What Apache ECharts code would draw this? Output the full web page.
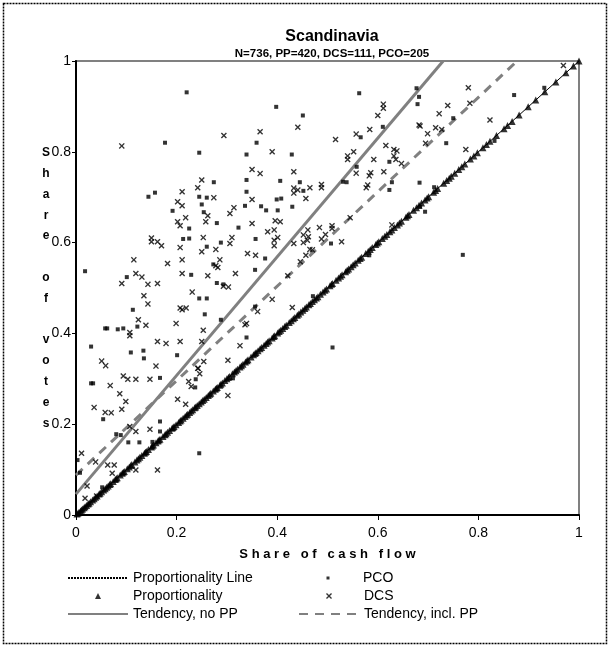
<!DOCTYPE html>
<html>
<head>
<meta charset="utf-8">
<title>Scandinavia</title>
<script src="https://cdn.jsdelivr.net/npm/echarts@6/dist/echarts.min.js"></script>
<style>
  html, body { margin: 0; padding: 0; background: #fff; }
  #chart { width: 611px; height: 647px; }
</style>
</head>
<body>
<div id="chart"></div>
<script>
const chartTitle = 'Scandinavia'
const chartSubtitle = 'N=736, PP=420, DCS=111, PCO=205'
const xName = 'Share of cash flow'
const yName = 'Share of votes'
const axisTicks = [0, 0.2, 0.4, 0.6, 0.8, 1]

// proportional firms: votes == cash flow, so one share per firm
const ppShares = [
  0.002, 0.004, 0.006, 0.009, 0.011, 0.013, 0.016, 0.018, 0.021, 0.024, 0.026, 0.029,
  0.033, 0.036, 0.039, 0.042, 0.046, 0.048, 0.051, 0.055, 0.058, 0.061, 0.064, 0.067,
  0.069, 0.074, 0.078, 0.08, 0.082, 0.088, 0.092, 0.094, 0.096, 0.102, 0.106, 0.109,
  0.111, 0.117, 0.121, 0.124, 0.127, 0.131, 0.136, 0.138, 0.14, 0.144, 0.15, 0.152,
  0.154, 0.159, 0.163, 0.165, 0.167, 0.173, 0.177, 0.179, 0.182, 0.186, 0.191, 0.193,
  0.195, 0.199, 0.204, 0.207, 0.209, 0.213, 0.217, 0.22, 0.222, 0.226, 0.229, 0.232,
  0.236, 0.238, 0.241, 0.245, 0.249, 0.252, 0.255, 0.259, 0.263, 0.266, 0.268, 0.273,
  0.277, 0.279, 0.281, 0.286, 0.288, 0.291, 0.296, 0.3, 0.303, 0.305, 0.311, 0.315,
  0.318, 0.321, 0.326, 0.329, 0.332, 0.337, 0.34, 0.342, 0.348, 0.353, 0.356, 0.358,
  0.362, 0.366, 0.369, 0.374, 0.378, 0.381, 0.384, 0.39, 0.393, 0.395, 0.401, 0.404,
  0.407, 0.411, 0.415, 0.418, 0.424, 0.428, 0.432, 0.435, 0.44, 0.443, 0.447, 0.451,
  0.455, 0.458, 0.463, 0.466, 0.47, 0.474, 0.478, 0.481, 0.486, 0.491, 0.495, 0.498,
  0.505, 0.508, 0.51, 0.517, 0.522, 0.526, 0.529, 0.536, 0.539, 0.542, 0.547, 0.551,
  0.555, 0.561, 0.565, 0.568, 0.576, 0.581, 0.585, 0.589, 0.596, 0.599, 0.602, 0.609,
  0.614, 0.618, 0.624, 0.628, 0.633, 0.639, 0.643, 0.647, 0.656, 0.659, 0.662, 0.671,
  0.677, 0.682, 0.687, 0.694, 0.698, 0.701, 0.711, 0.715, 0.719, 0.731, 0.737, 0.742,
  0.746, 0.753, 0.761, 0.767, 0.773, 0.784, 0.791, 0.798, 0.809, 0.816, 0.823, 0.836,
  0.851, 0.858, 0.867, 0.881, 0.899, 0.914, 0.932, 0.954, 0.974, 0.989, 1.0
]

const pcoPoints = [
  [0.220, 0.931], [0.177, 0.820], [0.245, 0.798], [0.144, 0.701], [0.157, 0.710], [0.192, 0.670],
  [0.225, 0.631], [0.213, 0.608], [0.225, 0.609], [0.018, 0.537], [0.101, 0.524], [0.229, 0.529],
  [0.398, 0.899], [0.451, 0.880], [0.359, 0.820], [0.339, 0.794], [0.429, 0.794], [0.274, 0.733],
  [0.339, 0.738], [0.406, 0.736], [0.445, 0.733], [0.452, 0.714], [0.339, 0.712], [0.245, 0.701],
  [0.260, 0.699], [0.399, 0.695], [0.408, 0.697], [0.336, 0.681], [0.368, 0.680], [0.378, 0.671],
  [0.250, 0.684], [0.401, 0.671], [0.430, 0.679], [0.254, 0.667], [0.280, 0.643], [0.323, 0.633],
  [0.357, 0.608], [0.260, 0.591], [0.288, 0.600], [0.376, 0.565], [0.273, 0.552], [0.356, 0.540],
  [0.280, 0.511], [0.293, 0.508], [0.563, 0.929], [0.677, 0.940], [0.682, 0.921], [0.679, 0.905],
  [0.750, 0.874], [0.610, 0.855], [0.566, 0.832], [0.736, 0.819], [0.623, 0.778], [0.558, 0.767],
  [0.531, 0.734], [0.538, 0.733], [0.628, 0.733], [0.683, 0.732], [0.623, 0.716], [0.507, 0.598],
  [0.694, 0.668], [0.510, 0.369], [0.684, 0.679], [0.871, 0.925], [0.769, 0.573], [0.113, 0.452],
  [0.058, 0.411], [0.062, 0.411], [0.083, 0.409], [0.094, 0.411], [0.122, 0.415], [0.030, 0.371],
  [0.109, 0.358], [0.134, 0.362], [0.135, 0.345], [0.201, 0.352], [0.167, 0.302], [0.030, 0.290],
  [0.034, 0.290], [0.054, 0.211], [0.167, 0.206], [0.080, 0.178], [0.089, 0.176], [0.104, 0.160],
  [0.126, 0.160], [0.003, 0.121], [0.245, 0.136], [0.008, 0.093], [0.167, 0.184], [0.245, 0.477],
  [0.260, 0.477], [0.256, 0.442], [0.288, 0.430], [0.238, 0.299], [0.237, 0.281], [0.339, 0.391],
  [0.356, 0.459], [0.052, 0.061], [0.152, 0.161], [0.312, 0.301], [0.471, 0.482], [0.583, 0.572],
  [0.712, 0.722], [0.832, 0.824], [0.931, 0.941]
]

const dcsPoints = [
  [0.091, 0.813], [0.211, 0.712], [0.242, 0.721], [0.202, 0.690], [0.211, 0.681], [0.218, 0.655],
  [0.202, 0.646], [0.207, 0.637], [0.150, 0.610], [0.150, 0.602], [0.162, 0.602], [0.170, 0.593],
  [0.207, 0.589], [0.115, 0.562], [0.211, 0.562], [0.182, 0.554], [0.119, 0.532], [0.131, 0.524],
  [0.211, 0.532], [0.091, 0.510], [0.143, 0.508], [0.162, 0.510], [0.441, 0.854], [0.294, 0.836],
  [0.366, 0.844], [0.390, 0.800], [0.350, 0.761], [0.366, 0.752], [0.433, 0.756], [0.250, 0.738],
  [0.488, 0.728], [0.488, 0.721], [0.433, 0.720], [0.441, 0.716], [0.465, 0.721], [0.433, 0.709],
  [0.457, 0.697], [0.274, 0.699], [0.350, 0.695], [0.314, 0.677], [0.262, 0.659], [0.306, 0.664],
  [0.258, 0.646], [0.350, 0.642], [0.396, 0.648], [0.406, 0.646], [0.381, 0.624], [0.394, 0.628],
  [0.461, 0.628], [0.484, 0.633], [0.253, 0.611], [0.310, 0.611], [0.306, 0.598], [0.401, 0.611],
  [0.394, 0.605], [0.394, 0.593], [0.452, 0.617], [0.462, 0.613], [0.452, 0.600], [0.460, 0.605],
  [0.433, 0.598], [0.250, 0.580], [0.278, 0.585], [0.341, 0.576], [0.357, 0.572], [0.465, 0.585],
  [0.470, 0.584], [0.286, 0.562], [0.457, 0.572], [0.446, 0.558], [0.278, 0.549], [0.282, 0.545],
  [0.262, 0.527], [0.317, 0.532], [0.421, 0.527], [0.611, 0.905], [0.611, 0.896], [0.739, 0.902],
  [0.600, 0.880], [0.722, 0.884], [0.682, 0.859], [0.684, 0.857], [0.584, 0.849], [0.715, 0.853],
  [0.727, 0.849], [0.557, 0.839], [0.699, 0.840], [0.516, 0.827], [0.695, 0.819], [0.616, 0.814],
  [0.632, 0.805], [0.638, 0.802], [0.552, 0.800], [0.540, 0.791], [0.540, 0.783], [0.632, 0.791],
  [0.636, 0.783], [0.592, 0.783], [0.647, 0.774], [0.612, 0.756], [0.557, 0.753], [0.586, 0.754],
  [0.583, 0.747], [0.580, 0.727], [0.577, 0.721], [0.545, 0.655], [0.509, 0.637], [0.509, 0.631],
  [0.496, 0.618], [0.528, 0.602], [0.488, 0.608], [0.628, 0.639], [0.969, 0.990], [0.780, 0.941],
  [0.783, 0.907], [0.823, 0.870], [0.775, 0.805], [0.135, 0.483], [0.231, 0.491], [0.143, 0.465],
  [0.207, 0.456], [0.219, 0.456], [0.211, 0.452], [0.124, 0.430], [0.107, 0.402], [0.107, 0.395],
  [0.139, 0.418], [0.199, 0.422], [0.162, 0.382], [0.179, 0.378], [0.207, 0.382], [0.051, 0.339],
  [0.059, 0.329], [0.159, 0.328], [0.243, 0.323], [0.094, 0.306], [0.103, 0.299], [0.119, 0.299],
  [0.147, 0.299], [0.068, 0.285], [0.087, 0.267], [0.099, 0.250], [0.202, 0.255], [0.036, 0.237],
  [0.058, 0.226], [0.070, 0.225], [0.091, 0.233], [0.107, 0.195], [0.119, 0.184], [0.147, 0.189],
  [0.218, 0.244], [0.224, 0.294], [0.229, 0.283], [0.011, 0.136], [0.039, 0.117], [0.063, 0.110],
  [0.076, 0.110], [0.072, 0.092], [0.119, 0.099], [0.162, 0.099], [0.022, 0.064], [0.018, 0.037],
  [0.041, 0.042], [0.293, 0.504], [0.303, 0.502], [0.253, 0.407], [0.250, 0.382], [0.254, 0.338],
  [0.242, 0.323], [0.246, 0.311], [0.302, 0.341], [0.302, 0.263], [0.326, 0.373], [0.336, 0.419],
  [0.339, 0.422], [0.361, 0.448], [0.390, 0.475], [0.430, 0.457]
]

// line endpoints [cash flow, votes]
const propLine = [[0, 0], [1, 1]]
const tendNoPP = [[0, 0.046], [0.73, 1]]
const tendInclPP = [[0, 0.088], [0.877, 1]]

const FONT = 'Liberation Sans, Arial, sans-serif'
// path symbols keep their aspect inside the legend, built-in ones get stretched
const crossIcon = 'path://M0,1.6L1.6,0L5,3.4L8.4,0L10,1.6L6.6,5L10,8.4L8.4,10L5,6.6L1.6,10L0,8.4L3.4,5Z'
const triIcon = 'path://M5,0L10,10L0,10Z'
const squareIcon = 'path://M0,0L10,0L10,10L0,10Z'

const chart = echarts.init(document.getElementById('chart'), null, { renderer: 'canvas' })

const legendText = { fontFamily: FONT, fontSize: 14, color: '#000', lineHeight: 16 }
const noDot = { opacity: 0 }
const legendTop = 565
const rowStep = 18
const iconWidth = 60

function legendBlock(left, top, itemHeight, data) {
  return {
    orient: 'vertical',
    left: left,
    top: top,
    itemWidth: iconWidth,
    itemHeight: itemHeight,
    itemGap: 2,
    selectedMode: false,
    textStyle: legendText,
    data: data
  }
}

chart.setOption({
  animation: false,
  backgroundColor: '#fff',
  title: {
    text: chartTitle,
    subtext: chartSubtitle,
    left: 327,
    top: 24,
    textAlign: 'center',
    itemGap: 3,
    textStyle: { fontFamily: FONT, fontSize: 16, fontWeight: 'bold', color: '#000' },
    subtextStyle: { fontFamily: FONT, fontSize: 11.5, fontWeight: 'bold', color: '#000' }
  },
  grid: {
    left: 76,
    right: 32,
    top: 61,
    bottom: 132,
    show: true,
    borderColor: '#808080',
    borderWidth: 2,
    backgroundColor: 'transparent'
  },
  xAxis: {
    type: 'value',
    min: axisTicks[0],
    max: axisTicks[axisTicks.length - 1],
    interval: 0.2,
    name: xName.split('').join(' '),
    nameLocation: 'middle',
    nameGap: 33,
    nameTextStyle: { fontFamily: FONT, fontSize: 13, fontWeight: 'bold', color: '#000' },
    axisLine: { onZero: false, lineStyle: { color: '#000', width: 2 } },
    axisTick: { show: true, length: 5, lineStyle: { color: '#000', width: 1 } },
    axisLabel: { fontFamily: FONT, fontSize: 14, color: '#000', margin: 11 },
    splitLine: { show: false }
  },
  yAxis: {
    type: 'value',
    min: axisTicks[0],
    max: axisTicks[axisTicks.length - 1],
    interval: 0.2,
    axisLine: { onZero: false, lineStyle: { color: '#000', width: 2 } },
    axisTick: { show: true, length: 4, lineStyle: { color: '#000', width: 1 } },
    axisLabel: { fontFamily: FONT, fontSize: 14, color: '#000', margin: 5 },
    splitLine: { show: false }
  },
  legend: [
    legendBlock(62, legendTop, 6, [
      { name: 'Proportionality Line', itemStyle: noDot, lineStyle: { type: [2, 1] } },
      'Proportionality',
      { name: 'Tendency, no PP', itemStyle: noDot }
    ]),
    // a lone small marker: the block is placed by its own bounds, so start at the dot
    legendBlock(293 + (iconWidth - 3) / 2, legendTop, 3, ['PCO']),
    legendBlock(293, legendTop + rowStep, 6, [
      'DCS',
      { name: 'Tendency, incl. PP', itemStyle: noDot }
    ])
  ],
  graphic: [
    {
      type: 'rect',
      silent: true,
      shape: { x: 3.5, y: 3.5, width: 603, height: 640 },
      style: { fill: 'none', stroke: '#000', lineWidth: 1.5, lineDash: [2, 1] }
    },
    {
      type: 'text',
      silent: true,
      x: 46,
      y: 288,
      style: {
        text: yName.split('').join('\n'),
        fontFamily: FONT,
        fontSize: 12,
        fontWeight: 'bold',
        lineHeight: 20.8,
        fill: '#000',
        align: 'center',
        verticalAlign: 'middle'
      }
    }
  ],
  series: [
    {
      name: 'Tendency, no PP',
      type: 'line',
      data: tendNoPP,
      symbol: 'none',
      z: 2,
      lineStyle: { color: '#808080', width: 3 },
      itemStyle: { color: '#808080' }
    },
    {
      name: 'Tendency, incl. PP',
      type: 'line',
      data: tendInclPP,
      symbol: 'none',
      z: 2,
      lineStyle: { color: '#808080', width: 3, type: [9, 7] },
      itemStyle: { color: '#808080' }
    },
    {
      name: 'Proportionality Line',
      type: 'line',
      data: propLine,
      symbol: 'none',
      z: 3,
      lineStyle: { color: '#000', width: 1 },
      itemStyle: { color: '#000' }
    },
    {
      name: 'Proportionality',
      type: 'scatter',
      data: ppShares.map(v => [v, v]),
      symbol: triIcon,
      symbolSize: 7,
      z: 4,
      itemStyle: { color: '#000' }
    },
    {
      name: 'PCO',
      type: 'scatter',
      data: pcoPoints,
      symbol: squareIcon,
      symbolSize: 4,
      z: 4,
      itemStyle: { color: '#000' }
    },
    {
      name: 'DCS',
      type: 'scatter',
      data: dcsPoints,
      symbol: crossIcon,
      symbolSize: 6,
      z: 4,
      itemStyle: { color: '#000' }
    }
  ]
})
</script>
</body>
</html>
